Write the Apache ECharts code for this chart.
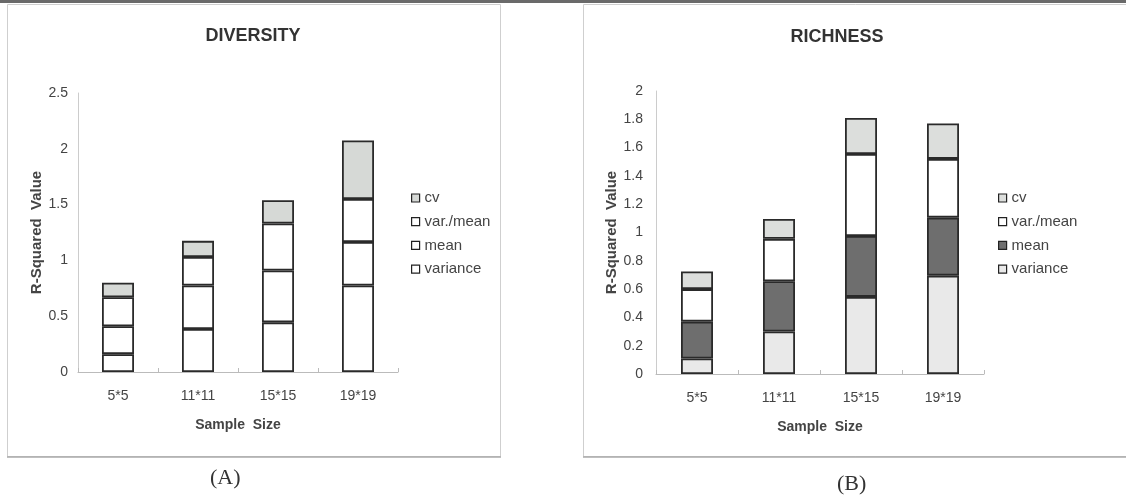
<!DOCTYPE html>
<html><head><meta charset="utf-8">
<script src="https://cdn.jsdelivr.net/npm/echarts@6/dist/echarts.min.js"></script>
<style>html,body{margin:0;padding:0;background:#fff}#c{width:1126px;height:501px}</style>
</head><body><div id="c"></div>
<script>
const categories = ['5*5', '11*11', '15*15', '19*19'];
const seriesNames = ['variance', 'mean', 'var./mean', 'cv'];
// DIVERSITY (panel A) segment heights
const divVariance = [0.16, 0.385, 0.445, 0.775];
const divMean = [0.25, 0.39, 0.465, 0.39];
const divVarMean = [0.26, 0.255, 0.42, 0.385];
const divCv = [0.13, 0.145, 0.21, 0.525];
// RICHNESS (panel B) segment heights
const richVariance = [0.11, 0.30, 0.545, 0.695];
const richMean = [0.26, 0.355, 0.43, 0.41];
const richVarMean = [0.23, 0.30, 0.58, 0.415];
const richCv = [0.125, 0.14, 0.255, 0.25];

const colA = {'variance':'#ffffff','mean':'#ffffff','var./mean':'#ffffff','cv':'#d6d9d6'};
const colB = {'variance':'#e9e9e9','mean':'#6e6e6e','var./mean':'#ffffff','cv':'#dcdedc'};

const chart = echarts.init(document.getElementById('c'), null, {renderer:'canvas'});
const font = 'Liberation Sans, Arial, sans-serif';

function mkSeries(idx, data, cols){
  return seriesNames.map((n,i)=>({
    name:n, type:'bar', stack:'s'+idx, xAxisIndex:idx, yAxisIndex:idx,
    data:data[i], barWidth:32, silent:true,
    itemStyle:{color:cols[n], borderColor:'#2a2a2a', borderWidth:1.8}
  }));
}
function mkLegend(idx, left, top, cols){
  return {orient:'vertical', left:left, top:top, padding:0, itemWidth:8, itemHeight:8, itemGap:7.7,
    icon:'rect', selectedMode:false,
    data:seriesNames.slice().reverse().map(n=>({name:n, itemStyle:{color:cols[n], borderColor:'#222', borderWidth:1.2}})),
    textStyle:{fontFamily:font, fontSize:15, color:'#444', lineHeight:16}};
}
const xAx = (gi)=>({type:'category', gridIndex:gi, data:categories,
  axisLine:{lineStyle:{color:'#bbb'}}, axisTick:{show:true, inside:true, lineStyle:{color:'#bbb'}, length:4},
  axisLabel:{fontFamily:font, fontSize:14, color:'#444', margin:17},
  name:'Sample  Size', nameLocation:'middle', nameGap:46,
  nameTextStyle:{fontFamily:font, fontSize:14, fontWeight:'bold', color:'#444'}});
const yAx = (gi,max,interval,gap,margin)=>({type:'value', gridIndex:gi, min:0, max:max, interval:interval,
  axisLine:{show:true, lineStyle:{color:'#ccc'}}, axisTick:{show:false}, splitLine:{show:false},
  axisLabel:{fontFamily:font, fontSize:14, color:'#444', margin:margin},
  name:'R-Squared  Value', nameLocation:'middle', nameGap:gap, nameRotate:90,
  nameTextStyle:{fontFamily:font, fontSize:15, fontWeight:'bold', color:'#444'}});

chart.setOption({
  backgroundColor:'#ffffff',
  animation:false,
  title:[
    {text:'DIVERSITY', left:253, top:27, textAlign:'center', padding:0, textStyle:{fontFamily:font, fontSize:18, fontWeight:'bold', color:'#333'}},
    {text:'RICHNESS', left:837, top:28, textAlign:'center', padding:0, textStyle:{fontFamily:font, fontSize:18, fontWeight:'bold', color:'#333'}}
  ],
  grid:[
    {left:78, right:728, top:93, bottom:129},
    {left:656, right:142, top:91, bottom:127}
  ],
  xAxis:[xAx(0), xAx(1)],
  yAxis:[yAx(0,2.5,0.5,34,10), yAx(1,2,0.2,36,13)],
  legend:[mkLegend(0,411,190,colA), mkLegend(1,998,190,colB)],
  series:[
    ...mkSeries(0,[divVariance,divMean,divVarMean,divCv],colA),
    ...mkSeries(1,[richVariance,richMean,richVarMean,richCv],colB)
  ],
  graphic:[
    {type:'rect', shape:{x:0,y:0,width:1126,height:3}, style:{fill:'#6a6a6a'}, silent:true, z:-1},
    {type:'rect', shape:{x:7.5,y:4.5,width:493,height:452}, style:{fill:'none', stroke:'#cfcfcf', lineWidth:1}, silent:true, z:-1},
    {type:'rect', shape:{x:583.5,y:4.5,width:560,height:452}, style:{fill:'none', stroke:'#cfcfcf', lineWidth:1}, silent:true, z:-1},
    {type:'line', shape:{x1:7,y1:457,x2:501,y2:457}, style:{stroke:'#aaa', lineWidth:1.5}, silent:true},
    {type:'line', shape:{x1:583,y1:457,x2:1126,y2:457}, style:{stroke:'#aaa', lineWidth:1.5}, silent:true},
    {type:'text', left:210, top:467, style:{text:'(A)', font:'22px "Liberation Serif", "DejaVu Serif", serif', fill:'#333'}},
    {type:'text', left:837, top:473, style:{text:'(B)', font:'22px "Liberation Serif", "DejaVu Serif", serif', fill:'#333'}}
  ]
});
</script></body></html>
